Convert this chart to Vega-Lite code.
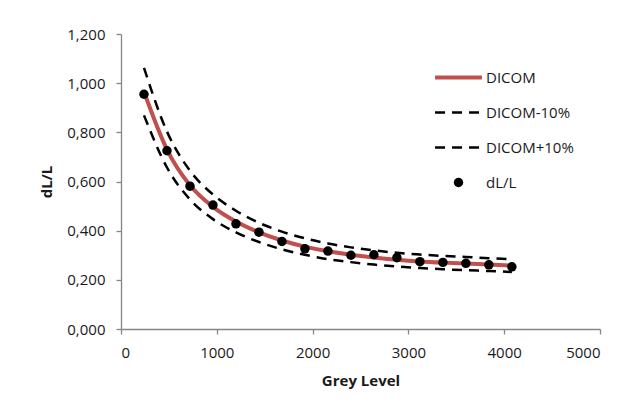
{
  "$schema": "https://vega.github.io/schema/vega-lite/v6.json",
  "width": 479,
  "height": 295,
  "autosize": {"type": "none"},
  "padding": {"left": 121, "top": 34, "right": 30, "bottom": 81},
  "background": "white",
  "config": {
    "view": {"stroke": null},
    "font": "Open Sans",
    "axis": {
      "grid": false,
      "domainColor": "#868686",
      "domainWidth": 1.3,
      "tickColor": "#868686",
      "tickWidth": 1.3,
      "tickSize": 5,
      "labelFont": "Open Sans",
      "labelFontSize": 15,
      "labelColor": "#1a1a1a",
      "titleFont": "Open Sans",
      "titleFontSize": 15,
      "titleFontWeight": "bold",
      "titleColor": "#1a1a1a"
    },
    "legend": {
      "labelFont": "Open Sans",
      "labelFontSize": 15,
      "labelColor": "#1a1a1a"
    }
  },
  "datasets": {
    "curves": [
      {"grey": 240, "value": 0.965, "series": "DICOM"},
      {"grey": 480, "value": 0.73, "series": "DICOM"},
      {"grey": 720, "value": 0.585, "series": "DICOM"},
      {"grey": 960, "value": 0.497, "series": "DICOM"},
      {"grey": 1200, "value": 0.437, "series": "DICOM"},
      {"grey": 1440, "value": 0.393, "series": "DICOM"},
      {"grey": 1680, "value": 0.36, "series": "DICOM"},
      {"grey": 1920, "value": 0.335, "series": "DICOM"},
      {"grey": 2160, "value": 0.316, "series": "DICOM"},
      {"grey": 2400, "value": 0.302, "series": "DICOM"},
      {"grey": 2640, "value": 0.291, "series": "DICOM"},
      {"grey": 2880, "value": 0.282, "series": "DICOM"},
      {"grey": 3120, "value": 0.275, "series": "DICOM"},
      {"grey": 3360, "value": 0.27, "series": "DICOM"},
      {"grey": 3600, "value": 0.266, "series": "DICOM"},
      {"grey": 3840, "value": 0.262, "series": "DICOM"},
      {"grey": 4080, "value": 0.258, "series": "DICOM"},
      {"grey": 240, "value": 0.869, "series": "DICOM-10%"},
      {"grey": 480, "value": 0.657, "series": "DICOM-10%"},
      {"grey": 720, "value": 0.527, "series": "DICOM-10%"},
      {"grey": 960, "value": 0.447, "series": "DICOM-10%"},
      {"grey": 1200, "value": 0.393, "series": "DICOM-10%"},
      {"grey": 1440, "value": 0.354, "series": "DICOM-10%"},
      {"grey": 1680, "value": 0.324, "series": "DICOM-10%"},
      {"grey": 1920, "value": 0.302, "series": "DICOM-10%"},
      {"grey": 2160, "value": 0.284, "series": "DICOM-10%"},
      {"grey": 2400, "value": 0.272, "series": "DICOM-10%"},
      {"grey": 2640, "value": 0.262, "series": "DICOM-10%"},
      {"grey": 2880, "value": 0.254, "series": "DICOM-10%"},
      {"grey": 3120, "value": 0.248, "series": "DICOM-10%"},
      {"grey": 3360, "value": 0.243, "series": "DICOM-10%"},
      {"grey": 3600, "value": 0.239, "series": "DICOM-10%"},
      {"grey": 3840, "value": 0.236, "series": "DICOM-10%"},
      {"grey": 4080, "value": 0.232, "series": "DICOM-10%"},
      {"grey": 240, "value": 1.062, "series": "DICOM+10%"},
      {"grey": 480, "value": 0.803, "series": "DICOM+10%"},
      {"grey": 720, "value": 0.644, "series": "DICOM+10%"},
      {"grey": 960, "value": 0.547, "series": "DICOM+10%"},
      {"grey": 1200, "value": 0.481, "series": "DICOM+10%"},
      {"grey": 1440, "value": 0.432, "series": "DICOM+10%"},
      {"grey": 1680, "value": 0.396, "series": "DICOM+10%"},
      {"grey": 1920, "value": 0.369, "series": "DICOM+10%"},
      {"grey": 2160, "value": 0.348, "series": "DICOM+10%"},
      {"grey": 2400, "value": 0.332, "series": "DICOM+10%"},
      {"grey": 2640, "value": 0.32, "series": "DICOM+10%"},
      {"grey": 2880, "value": 0.31, "series": "DICOM+10%"},
      {"grey": 3120, "value": 0.303, "series": "DICOM+10%"},
      {"grey": 3360, "value": 0.297, "series": "DICOM+10%"},
      {"grey": 3600, "value": 0.293, "series": "DICOM+10%"},
      {"grey": 3840, "value": 0.288, "series": "DICOM+10%"},
      {"grey": 4080, "value": 0.284, "series": "DICOM+10%"}
    ],
    "points": [
      {"grey": 240, "value": 0.955, "series": "dL/L"},
      {"grey": 480, "value": 0.725, "series": "dL/L"},
      {"grey": 720, "value": 0.581, "series": "dL/L"},
      {"grey": 960, "value": 0.504, "series": "dL/L"},
      {"grey": 1200, "value": 0.428, "series": "dL/L"},
      {"grey": 1440, "value": 0.394, "series": "dL/L"},
      {"grey": 1680, "value": 0.356, "series": "dL/L"},
      {"grey": 1920, "value": 0.326, "series": "dL/L"},
      {"grey": 2160, "value": 0.317, "series": "dL/L"},
      {"grey": 2400, "value": 0.3, "series": "dL/L"},
      {"grey": 2640, "value": 0.302, "series": "dL/L"},
      {"grey": 2880, "value": 0.29, "series": "dL/L"},
      {"grey": 3120, "value": 0.274, "series": "dL/L"},
      {"grey": 3360, "value": 0.271, "series": "dL/L"},
      {"grey": 3600, "value": 0.267, "series": "dL/L"},
      {"grey": 3840, "value": 0.261, "series": "dL/L"},
      {"grey": 4080, "value": 0.253, "series": "dL/L"}
    ]
  },
  "encoding": {
    "x": {
      "field": "grey",
      "type": "quantitative",
      "title": "Grey Level",
      "scale": {"domain": [0, 5000], "nice": false},
      "axis": {
        "values": [0, 1000, 2000, 3000, 4000, 5000],
        "format": "d",
        "labelPadding": 11,
        "titlePadding": 13
      }
    },
    "y": {
      "field": "value",
      "type": "quantitative",
      "title": "dL/L",
      "scale": {"domain": [0, 1.2], "nice": false},
      "axis": {
        "values": [0, 0.2, 0.4, 0.6, 0.8, 1.0, 1.2],
        "labelExpr": "replace(format(datum.value, '.3f'), '.', ',')",
        "labelPadding": 11,
        "titlePadding": 12
      }
    }
  },
  "layer": [
    {
      "data": {"name": "curves"},
      "transform": [{"filter": "datum.series !== 'DICOM'"}],
      "mark": {"type": "line", "strokeDash": [10, 7], "strokeWidth": 2.5, "interpolate": "monotone"},
      "encoding": {
        "detail": {"field": "series"},
        "color": {
          "field": "series",
          "type": "nominal",
          "scale": {
            "domain": ["DICOM", "DICOM-10%", "DICOM+10%", "dL/L"],
            "range": ["#c0504d", "#000000", "#000000", "#000000"]
          },
          "legend": {
            "title": null,
            "orient": "none",
            "legendX": 330,
            "legendY": 36,
            "padding": 0,
            "symbolType": "stroke",
            "symbolSize": 2200,
            "symbolStrokeWidth": 2.5,
            "rowPadding": 19,
            "labelOffset": 20,
            "encode": {
              "symbols": {
                "update": {
                  "shape": {"signal": "datum.value === 'dL/L' ? 'circle' : 'stroke'"},
                  "size": {"signal": "datum.value === 'dL/L' ? 90 : 2200"},
                  "fill": {"signal": "datum.value === 'dL/L' ? '#000000' : 'transparent'"},
                  "stroke": {"signal": "datum.value === 'DICOM' ? '#c0504d' : '#000000'"},
                  "strokeWidth": {"signal": "datum.value === 'DICOM' ? 4 : (datum.value === 'dL/L' ? 0 : 2.5)"},
                  "strokeDash": {"signal": "(datum.value === 'DICOM-10%' || datum.value === 'DICOM+10%') ? [10, 7] : [1, 0]"},
                  "opacity": {"value": 1}
                }
              }
            }
          }
        }
      }
    },
    {
      "data": {"name": "curves"},
      "transform": [{"filter": "datum.series === 'DICOM'"}],
      "mark": {"type": "line", "strokeWidth": 4, "interpolate": "monotone"},
      "encoding": {
        "color": {"field": "series", "type": "nominal"}
      }
    },
    {
      "data": {"name": "points"},
      "mark": {"type": "point", "filled": true, "opacity": 1, "size": 90, "shape": "circle"},
      "encoding": {
        "color": {"field": "series", "type": "nominal"}
      }
    }
  ]
}
